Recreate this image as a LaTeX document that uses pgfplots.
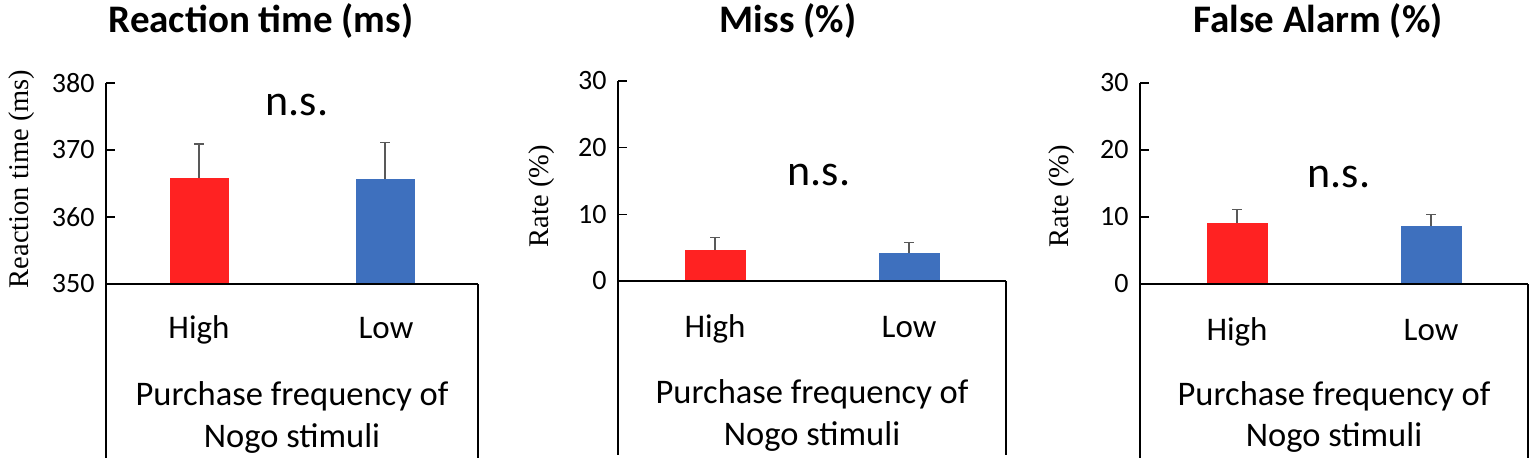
\documentclass[border=0pt]{standalone}
\usepackage{pgfplots}
\pgfplotsset{compat=1.18}
\usepackage{fontspec}
\setmainfont{Carlito}
\newfontfamily\timesf{Liberation Serif}
\definecolor{barred}{RGB}{255,34,34}
\definecolor{barblue}{RGB}{62,112,190}
\definecolor{errgray}{RGB}{89,89,89}
\pgfplotsset{
  panel/.style={
    scale only axis, anchor=south west,
    axis lines=left, axis line style={-, line width=1.8pt, black},
    axis on top,
    xmin=-0.5, xmax=1.5, xtick=\empty,
    tick align=inside, major tick length=9pt,
    y tick style={line width=1.6pt, black},
    yticklabel style={font=\fontsize{28}{32}\selectfont, xshift=-8pt},
    /pgf/number format/assume math mode=true,
    ybar, bar width=59pt, bar shift=0pt,
    error bars/y dir=plus, error bars/y explicit,
    error bars/error bar style={line width=1.6pt, errgray},
    error bars/error mark options={rotate=90, mark size=5pt, line width=1.6pt, errgray},
  },
}
\tikzset{
  catlab/.style={anchor=base, font=\fontsize{33}{36}\selectfont},
  xlab/.style={anchor=base, font=\fontsize{34.5}{38}\selectfont},
  ttl/.style={anchor=base, font=\fontsize{39}{42}\selectfont\bfseries},
  ns/.style={anchor=base, font=\fontsize{44}{48}\selectfont},
  ylab/.style={rotate=90, anchor=center, font=\timesf\fontsize{28.5}{32}\selectfont},
}
\begin{document}
\begin{tikzpicture}
\useasboundingbox (0pt,0pt) rectangle (1536pt,467pt);
% Panel 1
\begin{axis}[panel, name=p1, at={(106pt,183pt)}, width=372pt, height=201pt,
  ymin=350, ymax=380, ytick={350,360,370,380}]
  \addplot[fill=barred, draw=none] coordinates {(0,365.8) +- (0,5.1)};
  \addplot[fill=barblue, draw=none] coordinates {(1,365.6) +- (0,5.5)};
\end{axis}
\draw[line width=1.8pt] (p1.north west) -- ([yshift=-174pt]p1.south west);
\draw[line width=1.8pt] (p1.south east) -- ([yshift=-174pt]p1.south east);
\node[ttl] at (261pt,434pt) {Reaction time (ms)};
\node[ns] at (297pt,352pt) {n.s.};
\node[ylab] at (22pt,288pt) {Reaction time (ms)};
\node[catlab] at (199pt,129pt) {High};
\node[catlab] at (386pt,129pt) {Low};
\node[xlab] at (292pt,62pt) {Purchase frequency of};
\node[xlab] at (292pt,20pt) {Nogo stimuli};
% Panel 2
\begin{axis}[panel, name=p2, at={(618pt,186pt)}, width=388pt, height=200pt,
  ymin=0, ymax=30, ytick={0,10,20,30}, bar width=61pt]
  \addplot[fill=barred, draw=none] coordinates {(0,4.64) +- (0,1.9)};
  \addplot[fill=barblue, draw=none] coordinates {(1,4.14) +- (0,1.65)};
\end{axis}
\draw[line width=1.8pt] (p2.north west) -- ([yshift=-174pt]p2.south west);
\draw[line width=1.8pt] (p2.south east) -- ([yshift=-174pt]p2.south east);
\node[ttl] at (788pt,434pt) {Miss (\%)};
\node[ns] at (819pt,282pt) {n.s.};
\node[ylab] at (542pt,271pt) {Rate (\%)};
\node[catlab] at (715pt,130pt) {High};
\node[catlab] at (909pt,130pt) {Low};
\node[xlab] at (812pt,64pt) {Purchase frequency of};
\node[xlab] at (812pt,22pt) {Nogo stimuli};
% Panel 3
\begin{axis}[panel, name=p3, at={(1140pt,183pt)}, width=388pt, height=201pt,
  ymin=0, ymax=30, ytick={0,10,20,30}, bar width=61pt]
  \addplot[fill=barred, draw=none] coordinates {(0,9.12) +- (0,2.0)};
  \addplot[fill=barblue, draw=none] coordinates {(1,8.63) +- (0,1.77)};
\end{axis}
\draw[line width=1.8pt] (p3.north west) -- ([yshift=-174pt]p3.south west);
\draw[line width=1.8pt] (p3.south east) -- ([yshift=-174pt]p3.south east);
\node[ttl] at (1318pt,434pt) {False Alarm (\%)};
\node[ns] at (1339pt,280pt) {n.s.};
\node[ylab] at (1062pt,271pt) {Rate (\%)};
\node[catlab] at (1237pt,127pt) {High};
\node[catlab] at (1431pt,127pt) {Low};
\node[xlab] at (1334pt,62pt) {Purchase frequency of};
\node[xlab] at (1334pt,21pt) {Nogo stimuli};
\end{tikzpicture}
\end{document}
